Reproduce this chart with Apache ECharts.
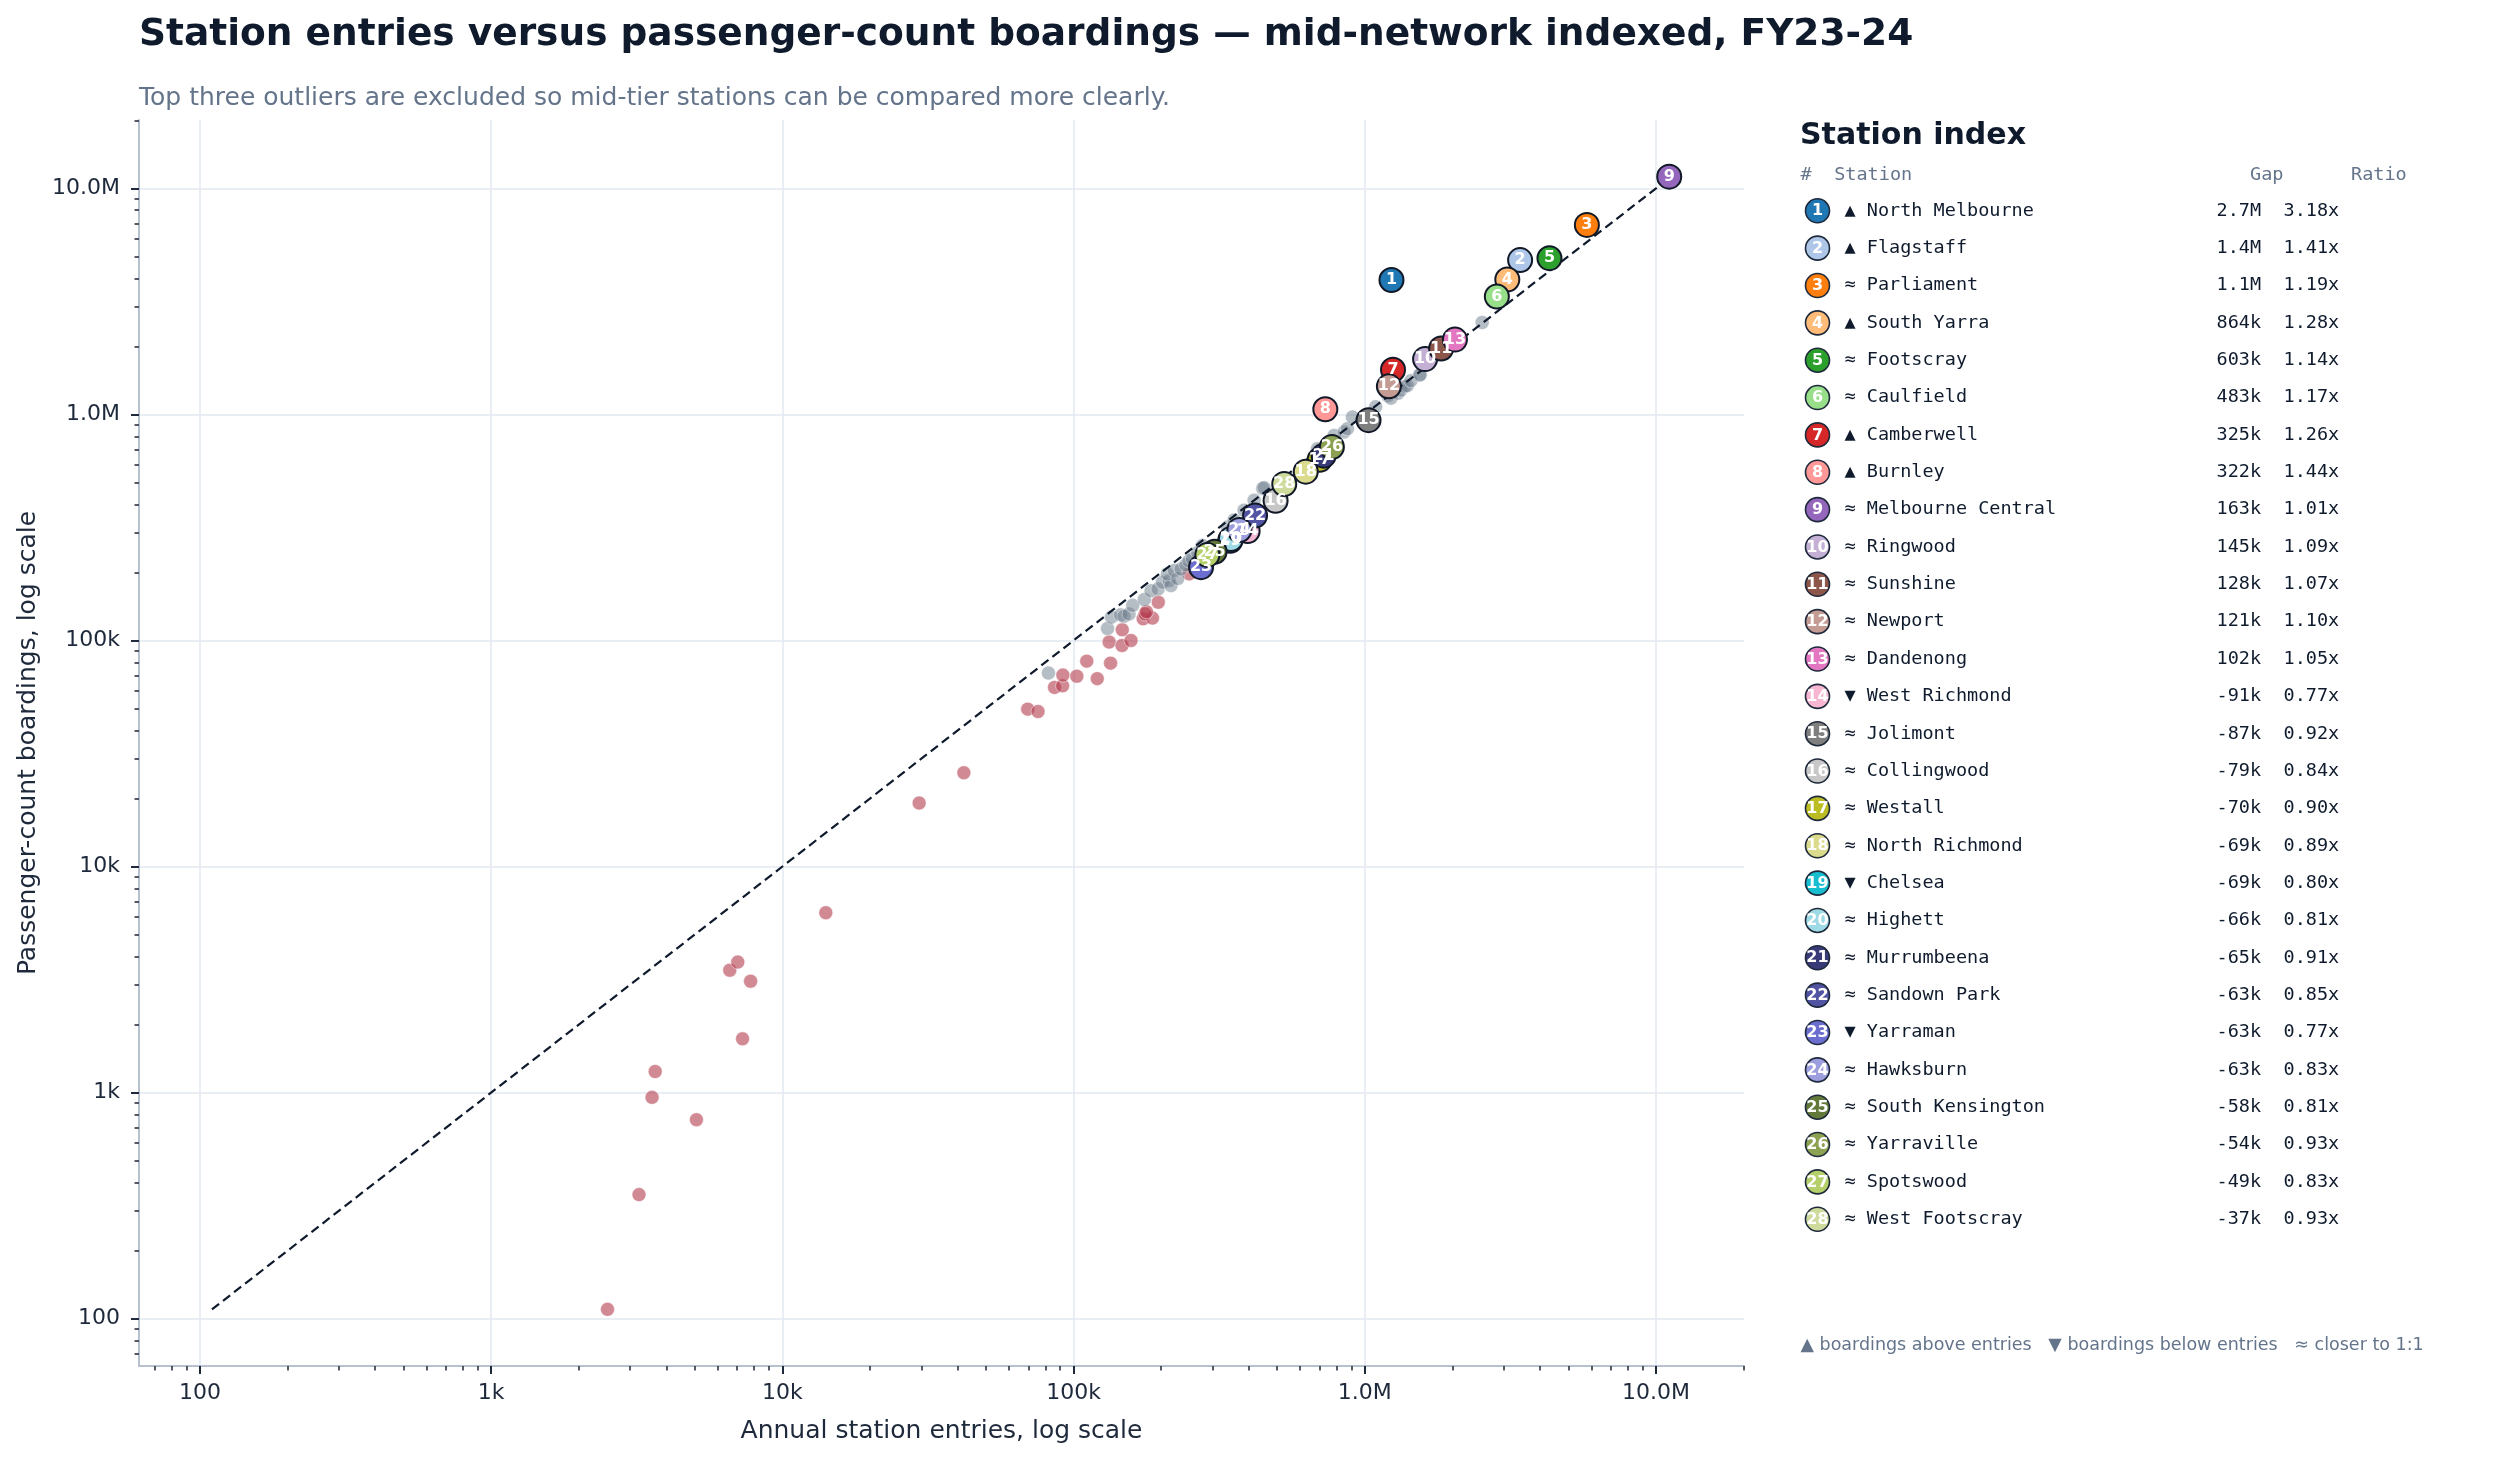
<!DOCTYPE html>
<html>
<head>
<meta charset="utf-8">
<title>Station entries versus passenger-count boardings</title>
<script src="https://cdn.jsdelivr.net/npm/echarts@6/dist/echarts.min.js"></script>
<style>
  html, body { margin: 0; padding: 0; background: #ffffff; }
  #main { width: 2500px; height: 1460px; }
</style>
</head>
<body>
<div id="main"></div>
<script>
// labelled stations, in index order
var stationNames = ['North Melbourne', 'Flagstaff', 'Parliament', 'South Yarra', 'Footscray', 'Caulfield',
  'Camberwell', 'Burnley', 'Melbourne Central', 'Ringwood', 'Sunshine', 'Newport', 'Dandenong',
  'West Richmond', 'Jolimont', 'Collingwood', 'Westall', 'North Richmond', 'Chelsea', 'Highett',
  'Murrumbeena', 'Sandown Park', 'Yarraman', 'Hawksburn', 'South Kensington', 'Yarraville',
  'Spotswood', 'West Footscray'];
var stationEntries = [1235000, 3415000, 5790000, 3086000, 4307000, 2841000, 1250000, 732000, 11100000,
  1611000, 1829000, 1210000, 2040000, 396000, 1030000, 494000, 700000, 627000, 345000, 347000,
  722000, 420000, 274000, 371000, 305000, 771000, 288000, 529000];
var stationBoardings = [3930000, 4815000, 6890000, 3950000, 4910000, 3324000, 1575000, 1054000, 11263000,
  1756000, 1957000, 1331000, 2142000, 305000, 943000, 415000, 630000, 558000, 276000, 281000,
  657000, 357000, 211000, 308000, 247000, 717000, 239000, 492000];
var gapLabels = ['2.7M', '1.4M', '1.1M', '864k', '603k', '483k', '325k', '322k', '163k', '145k', '128k',
  '121k', '102k', '-91k', '-87k', '-79k', '-70k', '-69k', '-69k', '-66k', '-65k', '-63k', '-63k',
  '-63k', '-58k', '-54k', '-49k', '-37k'];
var ratioLabels = ['3.18x', '1.41x', '1.19x', '1.28x', '1.14x', '1.17x', '1.26x', '1.44x', '1.01x', '1.09x',
  '1.07x', '1.10x', '1.05x', '0.77x', '0.92x', '0.84x', '0.90x', '0.89x', '0.80x', '0.81x', '0.91x',
  '0.85x', '0.77x', '0.83x', '0.81x', '0.93x', '0.83x', '0.93x'];
var directionMarks = ['▲', '▲', '≈', '▲', '≈', '≈', '▲', '▲', '≈', '≈', '≈', '≈', '≈', '▼', '≈', '≈',
  '≈', '≈', '▼', '≈', '≈', '≈', '▼', '≈', '≈', '≈', '≈', '≈'];
var stationColors = ['#1f77b4', '#aec7e8', '#ff7f0e', '#ffbb78', '#2ca02c', '#98df8a', '#d62728', '#ff9896',
  '#9467bd', '#c5b0d5', '#8c564b', '#c49c94', '#e377c2', '#f7b6d2', '#7f7f7f', '#c7c7c7', '#bcbd22',
  '#dbdb8d', '#17becf', '#9edae5', '#393b79', '#5254a3', '#6b6ecf', '#9c9ede', '#637939', '#8ca252',
  '#b5cf6b', '#cedb9c'];

// other stations close to 1:1
var nearEntries = [82000, 130800, 135000, 145000, 149000, 155000, 159600, 175000, 184500, 195000, 202000,
  213000, 216000, 210000, 222000, 228000, 234000, 243000, 249000, 256000, 267000, 277000, 338000,
  356000, 385000, 417000, 446000, 451000, 688000, 785000, 849000, 872000, 907000, 1090000, 1200000,
  1230000, 1300000, 1330000, 1370000, 1400000, 1440000, 1540000, 1550000, 2530000];
var nearBoardings = [71800, 113000, 126800, 129800, 128000, 131000, 143000, 151700, 166000, 169000, 181000,
  184000, 175000, 197000, 204000, 188000, 207000, 216000, 225000, 230000, 245000, 263000, 318000,
  341000, 377000, 417000, 470000, 474000, 705000, 807000, 836000, 865000, 973000, 1080000, 1210000,
  1180000, 1240000, 1280000, 1330000, 1340000, 1410000, 1490000, 1500000, 2550000];

// other stations well below entries
var belowEntries = [2510, 3220, 3570, 3660, 5070, 6600, 7030, 7780, 7300, 14100, 29500, 42000, 69600,
  75500, 86000, 91700, 91900, 102600, 111000, 120600, 134000, 132500, 146700, 157500, 147000, 173400,
  186600, 176000, 178000, 195400, 249500];
var belowBoardings = [110, 354, 953, 1240, 759, 3480, 3780, 3110, 1730, 6250, 19100, 26000, 49700,
  48500, 62000, 63000, 70300, 69500, 81000, 67800, 79400, 98400, 95000, 100000, 111500, 124700,
  125600, 131000, 134000, 147600, 197000];

var tickValues = [100, 1000, 10000, 100000, 1000000, 10000000];
var tickLabels = ['100', '1k', '10k', '100k', '1.0M', '10.0M'];

var FONT = '"DejaVu Sans", sans-serif';
var MONO = '"DejaVu Sans Mono", monospace';
var INK = '#0f1b2d';
var MUTED = '#64748b';

function lg(v) {
  return Math.round(Math.log10(v) * 1e9) / 1e9;
}

var allVals = stationEntries.concat(stationBoardings, nearEntries, nearBoardings, belowEntries, belowBoardings);
var lo = Math.min.apply(null, allVals);
var hi = Math.max.apply(null, allVals);
var pad = (lg(hi) - lg(lo)) * 0.05;
var axisMin = lg(lo) - pad;
var axisMax = lg(hi) + pad;

var majorTicks = [];
for (var i = 0; i < tickValues.length; i++) majorTicks.push(lg(tickValues[i]));
var minorTicks = [];
for (var d = 1; d <= 7; d++) {
  for (var k = 2; k <= 9; k++) {
    var mv = lg(k * Math.pow(10, d));
    if (mv > axisMin && mv < axisMax) minorTicks.push(mv);
  }
}

function tickName(value) {
  for (var i = 0; i < majorTicks.length; i++) {
    if (Math.abs(majorTicks[i] - value) < 1e-6) return tickLabels[i];
  }
  return '';
}

var nearData = [], belowData = [], stationData = [];
for (var i = 0; i < nearEntries.length; i++) nearData.push([lg(nearEntries[i]), lg(nearBoardings[i])]);
for (var i = 0; i < belowEntries.length; i++) belowData.push([lg(belowEntries[i]), lg(belowBoardings[i])]);
for (var i = 0; i < stationNames.length; i++) {
  stationData.push({
    value: [lg(stationEntries[i]), lg(stationBoardings[i])],
    name: stationNames[i],
    itemStyle: { color: stationColors[i] }
  });
}

function mainAxis(name, gap) {
  return {
    type: 'value', min: axisMin, max: axisMax,
    name: name, nameLocation: 'middle', nameGap: gap,
    nameTextStyle: { fontFamily: FONT, fontSize: 25, color: '#1e293b' },
    axisLine: { show: true, lineStyle: { color: '#b8c2ce', width: 2 } },
    axisTick: { show: true, customValues: majorTicks, length: 8, lineStyle: { color: '#1e293b', width: 2 } },
    axisLabel: { customValues: majorTicks, formatter: tickName, fontFamily: FONT, fontSize: 22, color: '#1e293b', margin: 16 },
    splitLine: { show: true, lineStyle: { color: '#e2e8f0', width: 1.5 } }
  };
}

function minorAxis(pos) {
  return {
    type: 'value', min: axisMin, max: axisMax, position: pos,
    axisLine: { show: false },
    axisTick: { show: true, customValues: minorTicks, length: 4.5, lineStyle: { color: '#1e293b', width: 1.5 } },
    axisLabel: { show: false },
    splitLine: { show: false }
  };
}

var xMain = mainAxis('Annual station entries, log scale', 53);
xMain.position = 'bottom';
var yMain = mainAxis('Passenger-count boardings, log scale', 96);
yMain.position = 'left';
yMain.axisLabel.margin = 19;

// station index panel
var graphics = [];
var colX = { num: 1817.5, name: 1844.5, gap: 2216.5, ratio: 2283.5 };
var rowTop = 210.8, rowStep = 37.35;
graphics.push({ type: 'text', x: 1800, y: 136, style: { text: 'Station index', font: 'bold 30px ' + FONT, fill: INK, textVerticalAlign: 'middle', verticalAlign: 'middle' } });
var headers = [['#', 1800.5], ['Station', 1834.2], ['Gap', 2250], ['Ratio', 2351]];
for (var i = 0; i < headers.length; i++) {
  graphics.push({ type: 'text', x: headers[i][1], y: 175, style: { text: headers[i][0], font: '18.5px ' + MONO, fill: MUTED, textVerticalAlign: 'middle', verticalAlign: 'middle' } });
}
for (var i = 0; i < stationNames.length; i++) {
  var y = rowTop + i * rowStep;
  graphics.push({ type: 'circle', shape: { cx: colX.num, cy: y, r: 12 }, style: { fill: stationColors[i], stroke: '#1e293b', lineWidth: 1.6 } });
  graphics.push({ type: 'text', x: colX.num, y: y + 0.5, style: { text: String(i + 1), font: 'bold 16px ' + FONT, fill: '#ffffff', textAlign: 'center', align: 'center', textVerticalAlign: 'middle', verticalAlign: 'middle' } });
  graphics.push({ type: 'text', x: colX.name, y: y, style: { text: directionMarks[i] + ' ' + stationNames[i], font: '18.5px ' + MONO, fill: INK, textVerticalAlign: 'middle', verticalAlign: 'middle' } });
  graphics.push({ type: 'text', x: colX.gap, y: y, style: { text: gapLabels[i], font: '18.5px ' + MONO, fill: INK, textVerticalAlign: 'middle', verticalAlign: 'middle' } });
  graphics.push({ type: 'text', x: colX.ratio, y: y, style: { text: ratioLabels[i], font: '18.5px ' + MONO, fill: INK, textVerticalAlign: 'middle', verticalAlign: 'middle' } });
}
graphics.push({ type: 'text', x: 1800.5, y: 1345, style: { text: '▲ boardings above entries   ▼ boardings below entries   ≈ closer to 1:1', font: '17.5px ' + FONT, fill: MUTED, textVerticalAlign: 'middle', verticalAlign: 'middle' } });

var option = {
  backgroundColor: '#ffffff',
  animation: false,
  title: [
    { left: 139, top: 16, padding: 0, text: 'Station entries versus passenger-count boardings — mid-network indexed, FY23-24',
      textStyle: { fontFamily: FONT, fontSize: 37.5, fontWeight: 'bold', color: INK } },
    { left: 139, top: 86, padding: 0, text: 'Top three outliers are excluded so mid-tier stations can be compared more clearly.',
      textStyle: { fontFamily: FONT, fontSize: 25, fontWeight: 'normal', color: MUTED } }
  ],
  grid: { left: 139, top: 120, width: 1605, height: 1246, containLabel: false },
  xAxis: [xMain, minorAxis('bottom')],
  yAxis: [yMain, minorAxis('left')],
  graphic: graphics,
  series: [
    {
      type: 'scatter', name: 'below', data: belowData, symbolSize: 14, z: 2,
      itemStyle: { color: '#b23a4c', opacity: 0.6, borderColor: '#ffffff', borderWidth: 0.8 },
      silent: true
    },
    {
      type: 'scatter', name: 'near', data: nearData, symbolSize: 14, z: 2,
      itemStyle: { color: '#6b7b8c', opacity: 0.5, borderColor: '#ffffff', borderWidth: 0.8 },
      silent: true
    },
    {
      type: 'line', name: '1:1', data: [[lg(lo), lg(lo)], [lg(hi), lg(hi)]], z: 3,
      symbol: 'none', lineStyle: { color: '#0f1b2d', width: 2.2, type: [9, 5] }, silent: true
    },
    {
      type: 'scatter', name: 'stations', data: stationData, symbolSize: 24, z: 4,
      itemStyle: { opacity: 1, borderColor: '#111827', borderWidth: 2 },
      label: {
        show: true, position: 'inside', fontFamily: FONT, fontSize: 16, fontWeight: 'bold', color: '#ffffff',
        formatter: function (p) { return String(p.dataIndex + 1); }
      },
      silent: true
    }
  ]
};

echarts.init(document.getElementById('main')).setOption(option);
</script>
</body>
</html>
